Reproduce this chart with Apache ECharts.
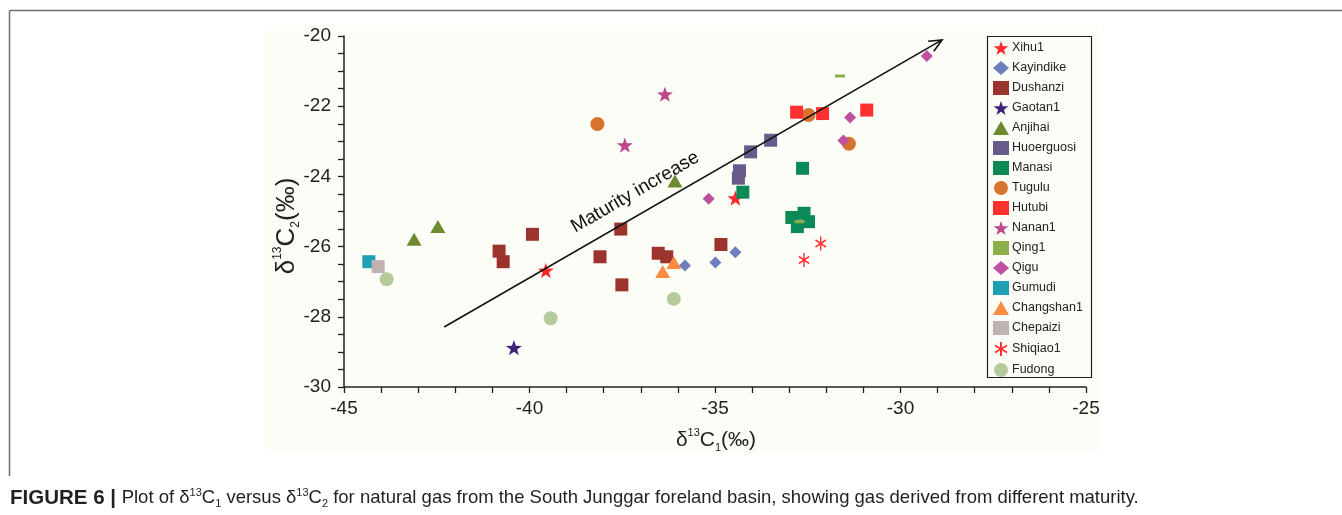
<!DOCTYPE html>
<html>
<head>
<meta charset="utf-8">
<script src="https://cdn.jsdelivr.net/npm/echarts@6/dist/echarts.min.js"></script>
<style>
html,body{margin:0;padding:0;background:#fff;}
#chart{width:1342px;height:515px;}
</style>
</head>
<body>
<div id="chart"></div>
<script>
// ---- data ----
const seriesNames = ['Xihu1','Kayindike','Dushanzi','Gaotan1','Anjihai','Huoerguosi','Manasi','Tugulu','Hutubi','Nanan1','Qing1','Qigu','Gumudi','Changshan1','Chepaizi','Shiqiao1','Fudong'];
const xihu1 = [[-39.56,-26.68],[-34.45,-24.62]];
const kayindike = [[-35.81,-26.54],[-34.99,-26.45],[-34.45,-26.16]];
const dushanzi = [[-40.82,-26.13],[-40.71,-26.43],[-39.92,-25.65],[-37.54,-25.50],[-38.10,-26.29],[-36.53,-26.19],[-36.30,-26.29],[-37.51,-27.09],[-34.84,-25.94]];
const gaotan1 = [[-40.42,-28.88]];
const anjihai = [[-43.11,-25.79],[-42.47,-25.43],[-36.08,-24.13]];
const huoerguosi = [[-33.50,-22.97],[-34.04,-23.30],[-34.34,-23.84],[-34.37,-24.05]];
const manasi = [[-34.25,-24.45],[-32.64,-23.77],[-32.93,-25.17],[-32.60,-25.05],[-32.48,-25.29],[-32.78,-25.43]];
const tugulu = [[-38.17,-22.51],[-32.48,-22.25],[-31.39,-23.07]];
const hutubi = [[-32.80,-22.17],[-32.10,-22.21],[-30.91,-22.11]];
const nanan1 = [[-36.35,-21.66],[-37.43,-23.11]];
const qing1 = [[-31.63,-21.14],[-32.72,-25.29]];
const qigu = [[-29.29,-20.57],[-31.36,-22.32],[-31.54,-22.98],[-35.17,-24.64]];
const gumudi = [[-44.33,-26.43]];
const changshan1 = [[-36.11,-26.45],[-36.41,-26.71]];
const chepaizi = [[-44.08,-26.57]];
const shiqiao1 = [[-32.15,-25.91],[-32.60,-26.38]];
const fudong = [[-43.85,-26.93],[-39.43,-28.04],[-36.11,-27.49]];
const arrowLine = [[-42.30,-28.29],[-28.88,-20.11]];
const arrowLabelAt = [-37.15,-24.45];
const xTicks = {min:-45, max:-25, interval:5};
const yTicks = {min:-30, max:-20, interval:2};

// ---- styles ----
const FONT = '"Liberation Sans", Arial, sans-serif';
const STAR = 'path://M0 -10 L2.351 -3.236 L9.511 -3.090 L3.804 1.236 L5.878 8.090 L0 4 L-5.878 8.090 L-3.804 1.236 L-9.511 -3.090 L-2.351 -3.236 Z';
const AST = 'path://M0 -10 L0 10 M-8.66 -5 L8.66 5 M-8.66 5 L8.66 -5';
const styles = {
  Xihu1:{data:xihu1, symbol:STAR, size:16, color:'#FF2B2B'},
  Kayindike:{data:kayindike, symbol:'diamond', size:12, color:'#6E7DBE'},
  Dushanzi:{data:dushanzi, symbol:'rect', size:13, color:'#9C332D'},
  Gaotan1:{data:gaotan1, symbol:STAR, size:16, color:'#3E2178'},
  Anjihai:{data:anjihai, symbol:'triangle', size:[15,13], color:'#6D8A30'},
  Huoerguosi:{data:huoerguosi, symbol:'rect', size:13, color:'#685A8A'},
  Manasi:{data:manasi, symbol:'rect', size:13, color:'#0B8A57'},
  Tugulu:{data:tugulu, symbol:'circle', size:14, color:'#D8732F'},
  Hutubi:{data:hutubi, symbol:'rect', size:13, color:'#FF3030'},
  Nanan1:{data:nanan1, symbol:STAR, size:16, color:'#BB4889'},
  Qing1:{data:qing1, symbol:'rect', size:[10,3], color:'#8DB04C'},
  Qigu:{data:qigu, symbol:'diamond', size:12, color:'#BE50A0'},
  Gumudi:{data:gumudi, symbol:'rect', size:13, color:'#1E9FB3'},
  Changshan1:{data:changshan1, symbol:'triangle', size:[15,13], color:'#FF8A42'},
  Chepaizi:{data:chepaizi, symbol:'rect', size:13, color:'#BFB2B0'},
  Shiqiao1:{data:shiqiao1, symbol:AST, size:[12,14], color:'#FF3030', stroke:true},
  Fudong:{data:fudong, symbol:'circle', size:14, color:'#B6CB9C'}
};

const series = seriesNames.map(n => {
  const s = styles[n];
  const item = s.stroke
    ? {color:'rgba(0,0,0,0)', borderColor:s.color, borderWidth:1.5, opacity:1}
    : {color:s.color, opacity:1};
  return {
    name:n, type:'scatter', data:s.data, symbol:s.symbol, symbolSize:s.size,
    symbolKeepAspect:true, itemStyle:item, emphasis:{disabled:true}, z:3
  };
});

const chart = echarts.init(document.getElementById('chart'), null, {renderer:'canvas'});
const axisCommon = {
  axisLine:{show:true, onZero:false, lineStyle:{color:'#222', width:1.5}},
  axisTick:{show:true, inside:false, length:6, lineStyle:{color:'#222', width:1.3}},
  splitLine:{show:false},
  axisLabel:{color:'#222', fontSize:19, fontFamily:FONT}
};
const sty = (fs, extra) => Object.assign({fontSize:fs, fontFamily:FONT, fill:'#222'}, extra||{});
const option = {
  animation:false,
  backgroundColor:'#ffffff',
  textStyle:{fontFamily:FONT},
  grid:{left:344, right:256, top:36, bottom:128, containLabel:false},
  xAxis:Object.assign({}, axisCommon, {
    type:'value', min:xTicks.min, max:xTicks.max, interval:xTicks.interval,
    minorTick:{show:true, splitNumber:5, length:6, lineStyle:{color:'#222', width:1.3}},
    axisLabel:Object.assign({}, axisCommon.axisLabel, {margin:12})
  }),
  yAxis:Object.assign({}, axisCommon, {
    type:'value', min:yTicks.min, max:yTicks.max, interval:yTicks.interval,
    minorTick:{show:true, splitNumber:4, length:6, lineStyle:{color:'#222', width:1.3}},
    axisLabel:Object.assign({}, axisCommon.axisLabel, {margin:13})
  }),
  legend:{
    orient:'vertical', left:988, top:36, itemWidth:16, itemHeight:14, itemGap:6,
    data:seriesNames, selectedMode:false,
    textStyle:{color:'#222', fontSize:12.5, fontFamily:FONT, padding:[0,0,0,-2]}
  },
  series:series,
  graphic:[
    {id:'bg', type:'rect', z:-100, silent:true, shape:{x:265, y:26, width:833, height:427}, style:{fill:'#fdfdf7'}},
    {id:'frameTop', type:'line', silent:true, shape:{x1:9.5, y1:10.5, x2:1342, y2:10.5}, style:{stroke:'#6e6e6e', lineWidth:1.5}},
    {id:'frameLeft', type:'line', silent:true, shape:{x1:9.5, y1:10.5, x2:9.5, y2:476}, style:{stroke:'#6e6e6e', lineWidth:1.5}},
    {id:'legendBox', type:'rect', silent:true, shape:{x:987.5, y:36.5, width:104, height:341}, style:{fill:'none', stroke:'#222', lineWidth:1.2}},
    {id:'xname', type:'text', silent:true, x:716, y:440, style:{
      text:'{a|δ}{sup|13}{a|C}{sub|1}{a|(‰)}', align:'center', verticalAlign:'middle',
      rich:{a:sty(21,{lineHeight:26}),
            sup:sty(11,{verticalAlign:'top', lineHeight:11}),
            sub:sty(11,{verticalAlign:'bottom', lineHeight:11})}
    }},
    {id:'yname', type:'text', silent:true, x:287, y:226, rotation:Math.PI/2, style:{
      text:'{a|δ}{sup|13}{a|C}{sub|2}{a|(‰)}', align:'center', verticalAlign:'middle',
      rich:{a:sty(26,{lineHeight:30}),
            sup:sty(12,{verticalAlign:'top', lineHeight:12}),
            sub:sty(12,{verticalAlign:'bottom', lineHeight:12})}
    }},
    {id:'caption', type:'text', silent:true, x:10, y:498, style:{
      text:'{b|FIGURE 6 | }{n|Plot of δ}{sup|13}{n|C}{sub|1}{n| versus δ}{sup|13}{n|C}{sub|2}{n| for natural gas from the South Junggar foreland basin, showing gas derived from different maturity.}',
      align:'left', verticalAlign:'middle',
      rich:{b:{fontSize:20.5, fontWeight:'bold', fontFamily:FONT, fill:'#231f20', lineHeight:22},
            n:{fontSize:18.5, fontFamily:FONT, fill:'#231f20', lineHeight:22},
            sup:{fontSize:11, fontFamily:FONT, fill:'#231f20', verticalAlign:'top', lineHeight:11},
            sub:{fontSize:11, fontFamily:FONT, fill:'#231f20', verticalAlign:'bottom', lineHeight:11}}
    }}
  ]
};
chart.setOption(option);

// arrow annotation drawn through the grid's scales
const p0 = chart.convertToPixel({gridIndex:0}, arrowLine[0]);
const p1 = chart.convertToPixel({gridIndex:0}, arrowLine[1]);
const ang = Math.atan2(p1[1]-p0[1], p1[0]-p0[0]);
const headLen = 14, headAng = 24*Math.PI/180;
const h1 = [p1[0]-headLen*Math.cos(ang-headAng), p1[1]-headLen*Math.sin(ang-headAng)];
const h2 = [p1[0]-headLen*Math.cos(ang+headAng), p1[1]-headLen*Math.sin(ang+headAng)];
const lp = chart.convertToPixel({gridIndex:0}, arrowLabelAt);
chart.setOption({graphic:[
  {id:'arrowBody', type:'line', silent:true, z:5, shape:{x1:p0[0], y1:p0[1], x2:p1[0], y2:p1[1]}, style:{stroke:'#111', lineWidth:1.6}},
  {id:'arrowHead', type:'polyline', silent:true, z:5, shape:{points:[h1, p1, h2]}, style:{stroke:'#111', lineWidth:1.6, fill:null}},
  {id:'arrowText', type:'text', silent:true, z:5, x:lp[0], y:lp[1], rotation:-ang, style:{
    text:'Maturity increase', fontSize:19, fontFamily:FONT, fill:'#111', align:'center', verticalAlign:'middle'}}
]});
</script>
</body>
</html>
